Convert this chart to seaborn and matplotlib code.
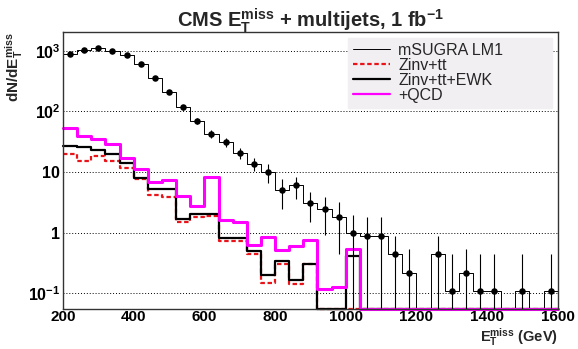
import numpy as np
import pandas as pd
import matplotlib
matplotlib.use("Agg")
import matplotlib.pyplot as plt
import seaborn as sns
from matplotlib.lines import Line2D
from matplotlib.ticker import FixedLocator, FixedFormatter, LogLocator, MultipleLocator, NullFormatter

# MET bins, 40 GeV wide, 200 - 1600 GeV
edges = np.arange(200, 1601, 40)
centers = edges[:-1] + 20

# mSUGRA LM1 (points with error bars + thin histogram)
lm1 = [885, 1040, 1130, 1000, 860, 610, 360, 205, 118, 70,
       43, 31, 20.5, 13.7, 10, 5.0, 6.0, 3.1, 2.4, 1.8,
       0.98, 0.89, 0.89, 0.44, 0.215, 0, 0.44, 0.107, 0.215, 0.107,
       0.107, 0, 0.107, 0, 0.107]
lm1_err = [30, 32, 34, 32, 29, 25, 19, 14, 11, 8,
           6, 5, 4, 3.2, 3.5, 2.6, 2.4, 1.6, 1.5, 1.35,
           0.97, 0.89, 0.89, 0.45, 0.32, 0, 0.45, 0.33, 0.32, 0.33,
           0.33, 0, 0.33, 0, 0.33]

# backgrounds
zinv_tt = [20, 15.1, 18.3, 15.1, 11.5, 7.6, 4.1, 3.85, 1.5, 1.78,
           1.9, 0.72, 0.72, 0.45, 0.148, 0.30, 0.14, 0.30] + [0] * 17
zinv_tt_ewk = [26.5, 25.5, 23.4, 19.4, 13.8, 7.9, 5.25, 5.3, 1.68, 2.0,
               2.05, 0.81, 0.8, 0.49, 0.2, 0.34, 0.166, 0.30, 0, 0,
               0.41] + [0] * 14
plus_qcd = [54, 39, 35, 29, 17, 11, 6.7, 7.4, 4.0, 2.75,
            8.3, 1.6, 1.5, 0.63, 0.84, 0.51, 0.6, 0.74, 0.115, 0.126,
            0.54] + [0] * 14

ymin, ymax = 0.055, 2030

sns.set_theme(style="white")
plt.rcParams['font.family'] = ['Liberation Sans', 'DejaVu Sans']
plt.rcParams['font.weight'] = 'bold'
plt.rcParams['mathtext.fontset'] = 'custom'
plt.rcParams['mathtext.bf'] = 'Liberation Sans:bold'
plt.rcParams['mathtext.rm'] = 'Liberation Sans:bold'
plt.rcParams['mathtext.it'] = 'Liberation Sans:bold'
plt.rcParams['mathtext.default'] = 'bf'

fig, ax = plt.subplots(figsize=(5.78, 3.49), dpi=100)
fig.subplots_adjust(left=0.109, right=0.965, top=0.908, bottom=0.115)


def step_frame(vals):
    v = np.maximum(np.asarray(vals, dtype=float), ymin)
    return pd.DataFrame({"edge": edges, "val": np.append(v, v[-1])})


red = "#e8141a"
dash = (0, (2.0, 1.2))

# thin LM1 histogram
sns.lineplot(data=step_frame(lm1), x="edge", y="val", drawstyle="steps-post",
             estimator=None, color="black", linewidth=0.7, ax=ax, clip_on=False)

# backgrounds
sns.lineplot(data=step_frame(zinv_tt), x="edge", y="val", drawstyle="steps-post",
             estimator=None, color=red, linewidth=1.6, ax=ax,
             linestyle=dash, clip_on=False)
sns.lineplot(data=step_frame(zinv_tt_ewk), x="edge", y="val", drawstyle="steps-post",
             estimator=None, color="black", linewidth=1.6, ax=ax, clip_on=False)
sns.lineplot(data=step_frame(plus_qcd), x="edge", y="val", drawstyle="steps-post",
             estimator=None, color="#ff00ff", linewidth=2.2, ax=ax, clip_on=False)

# LM1 points with error bars
pts = pd.DataFrame({"x": centers, "y": lm1, "err": lm1_err})
pts = pts[pts["y"] > 0]
ax.errorbar(pts["x"], pts["y"], yerr=pts["err"], fmt="none", ecolor="black",
            elinewidth=0.8, capsize=0)
sns.scatterplot(data=pts, x="x", y="y", color="black", s=22, edgecolor="black",
                linewidth=0, ax=ax, zorder=5)

ax.set_yscale("log")
ax.set_xlim(200, 1600)
ax.set_ylim(ymin, ymax)

# ticks (ROOT style, inside)
ax.xaxis.set_major_locator(MultipleLocator(200))
ax.xaxis.set_minor_locator(MultipleLocator(50))
ax.yaxis.set_major_locator(FixedLocator([0.1, 1, 10, 100, 1000]))
ax.yaxis.set_major_formatter(FixedFormatter([r"10$^{-1}$", "1", "10", r"10$^{2}$", r"10$^{3}$"]))
ax.yaxis.set_minor_locator(LogLocator(base=10, subs=np.arange(2, 10), numticks=20))
ax.yaxis.set_minor_formatter(NullFormatter())
ax.tick_params(axis="both", which="both", direction="in", colors="black",
               labelsize=11.5, width=0.8)
ax.tick_params(axis="x", which="major", length=5, pad=0.5, labelsize=11)
ax.tick_params(axis="x", which="minor", length=3)
ax.tick_params(axis="y", which="major", length=6, pad=2)
ax.tick_params(axis="y", which="minor", length=3.5)
for lab in ax.get_xticklabels() + ax.get_yticklabels():
    lab.set_fontweight("bold")

ax.yaxis.grid(True, which="major", linestyle=(0, (1, 2)), color="black", linewidth=0.7)
ax.xaxis.grid(False)
for sp in ax.spines.values():
    sp.set_color("#333333")
    sp.set_linewidth(1.0)

ax.set_title(r"CMS E$_{T}^{miss}$ + multijets, 1 fb$^{-1}$", fontsize=14.5,
             fontweight="bold", pad=4)
ax.set_xlabel(r"E$_{T}^{miss}$ (GeV)", fontsize=10.5, fontweight="bold")
# place x label baseline near the bottom of the figure, right-aligned
ax.xaxis.set_label_coords(1.0, -0.12)
ax.xaxis.label.set_horizontalalignment("right")
ax.xaxis.label.set_verticalalignment("baseline")
ax.set_ylabel(r"dN/dE$_{T}^{miss}$", fontsize=11, fontweight="bold", loc="top", labelpad=2)

handles = [
    Line2D([], [], color="black", linewidth=0.7),
    Line2D([], [], color=red, linewidth=1.6, linestyle=dash),
    Line2D([], [], color="black", linewidth=1.6),
    Line2D([], [], color="#ff00ff", linewidth=1.6),
]
labels = ["mSUGRA LM1", "Zinv+tt", "Zinv+tt+EWK", "+QCD"]
leg = ax.legend(handles, labels, loc="upper left", bbox_to_anchor=(0.576, 0.727, 0.412, 0.252),
                mode="expand", borderaxespad=0, fontsize=11.5, handlelength=2.3,
                handletextpad=0.55, labelspacing=0.0, frameon=True, fancybox=False,
                framealpha=1, borderpad=0.3)
leg.get_frame().set_facecolor("#f2eff2")
leg.get_frame().set_edgecolor("#f2eff2")
for t in leg.get_texts():
    t.set_fontweight("normal")

fig.savefig("out.png", dpi=100)
